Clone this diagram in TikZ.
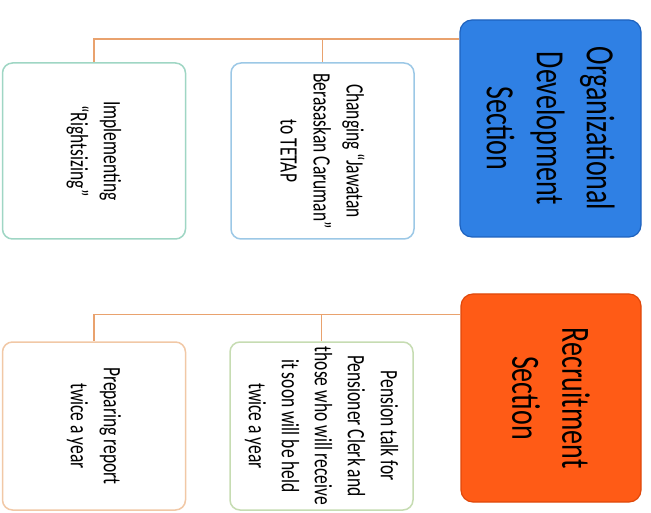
\documentclass[tikz,border=0pt]{standalone}
\usepackage{fontspec}
\newfontfamily\boxfont[FakeStretch=0.7]{Carlito}
\usetikzlibrary{positioning,calc}
\definecolor{orgblue}{HTML}{2F80E4}
\definecolor{orgedge}{HTML}{1E62BE}
\definecolor{recorange}{HTML}{FF5B16}
\definecolor{recedge}{HTML}{E0480A}
\definecolor{linkorange}{HTML}{E9A26E}
\definecolor{edgeblue}{HTML}{9CC8E6}
\definecolor{edgeteal}{HTML}{9FD6C4}
\definecolor{edgegreen}{HTML}{C6DCB2}
\definecolor{edgepeach}{HTML}{F1C8A6}

\begin{document}
\begin{tikzpicture}[x=1pt, y=-1pt,
section node/.style={rectangle,rounded corners=12pt,draw,line width=1.2pt,rotate=-90,
  align=center,inner sep=0pt,font=\boxfont\fontsize{40}{50}\selectfont},
task node/.style={rectangle,rounded corners=10pt,draw,fill=white,line width=1.5pt,rotate=-90,
  align=center,inner sep=0pt,minimum height=183pt,font=\boxfont\fontsize{25}{33}\selectfont},
link/.style={draw=linkorange,line width=1.5pt}]

\useasboundingbox (0,0) rectangle (651,513);

\node[section node] [fill=orgblue,draw=orgedge,minimum width=217pt,minimum height=181pt] (org) at (550.5,128.5) {Organizational\\Development\\Section};
\node[section node] [fill=recorange,draw=recedge,minimum width=208pt,minimum height=180pt] (rec) at (551,398) {Recruitment\\Section};

\node[task node] [draw=edgeblue,minimum width=176pt] (chg) at (322.5,151) {Changing “Jawatan\\Berasaskan Caruman”\\to TETAP};
\node[task node] [draw=edgeteal,minimum width=176pt] (impl) at (94,151) {Implementing\\“Rightsizing”};
\node[task node] [draw=edgegreen,minimum width=168pt] (pen) at (321.5,426) {Pension talk for\\Pensioner Clerk and\\those who will receive\\it soon will be held\\twice a year};
\node[task node] [draw=edgepeach,minimum width=168pt] (prep) at (94,426) {Preparing report\\twice a year};

\path[link] ($(org.south west)!0.09!(org.south east)$) -| (chg.west);
\path[link] ($(org.south west)!0.09!(org.south east)$) -| (impl.west);
\path[link] ($(rec.south west)!0.10!(rec.south east)$) -| (pen.west);
\path[link] ($(rec.south west)!0.10!(rec.south east)$) -| (prep.west);
\end{tikzpicture}
\end{document}
